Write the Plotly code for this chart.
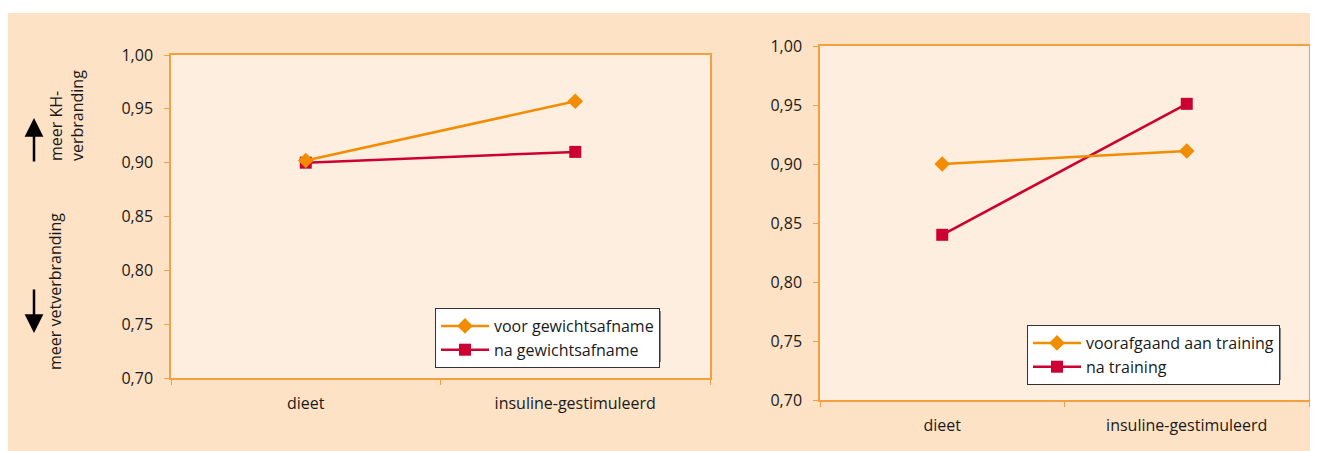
import plotly.graph_objects as go

# The page body has an 8px margin, so the figure is 8px smaller and shifted.
OFF = 8
W, H = 1318 - OFF, 451 - OFF

categories = ["dieet", "insuline-gestimuleerd"]

# left chart
left_names = ["voor gewichtsafname", "na gewichtsafname"]
left_voor = [0.902, 0.957]
left_na = [0.900, 0.910]

# right chart
right_names = ["voorafgaand aan training", "na training"]
right_voor = [0.900, 0.911]
right_na = [0.840, 0.951]

y_ticks = [0.70, 0.75, 0.80, 0.85, 0.90, 0.95, 1.00]

ORANGE = "#F28C00"
RED = "#CC0033"
AXIS = "#F5A040"
PEACH = "#FDE2C5"
PLOTBG = "#FDEEDF"
TXT = "#1a1a1a"
FONT = "Open Sans"
FS = 16


def px_x(p):
    return (p - OFF) / W


def px_y(p):
    return 1 - (p - OFF) / H


fig = go.Figure()

series = [
    (left_names[0], left_voor, ORANGE, "diamond", 12, "x", "y", "legend"),
    (left_names[1], left_na, RED, "square", 12, "x", "y", "legend"),
    (right_names[0], right_voor, ORANGE, "diamond", 12, "x2", "y2", "legend2"),
    (right_names[1], right_na, RED, "square", 12, "x2", "y2", "legend2"),
]
for name, vals, col, sym, sz, xa, ya, lg in [series[1], series[0], series[3], series[2]]:
    fig.add_trace(go.Scatter(
        x=categories, y=vals, name=name, mode="lines+markers",
        line=dict(color=col, width=2.5),
        marker=dict(symbol=sym, size=sz, color=col),
        xaxis=xa, yaxis=ya, legend=lg,
    ))

axis_common = dict(
    showline=True, linecolor=AXIS, linewidth=1.5, mirror=True,
    ticks="outside", ticklen=5, tickcolor=AXIS, tickwidth=1,
    showgrid=False, zeroline=False, automargin=False,
    tickfont=dict(family=FONT, size=FS, color=TXT),
)

legend_common = dict(
    xanchor="left", yanchor="top",
    bgcolor="white", bordercolor="#333333", borderwidth=1,
    font=dict(family=FONT, size=FS, color=TXT),
    tracegroupgap=0, traceorder="reversed", itemwidth=48,
)


def shadow(x0, x1, y0, y1):
    return dict(type="rect", xref="paper", yref="paper",
                x0=px_x(x0), x1=px_x(x1), y0=px_y(y1), y1=px_y(y0),
                fillcolor="#8a8a8a", line=dict(width=0), layer="above")


fig.update_layout(
    width=W, height=H,
    margin=dict(l=0, r=0, t=0, b=0, autoexpand=False),
    paper_bgcolor=PEACH,
    plot_bgcolor=PLOTBG,
    separators=",.",
    font=dict(family=FONT, size=FS, color=TXT),
    xaxis=dict(domain=[px_x(171), px_x(710)], anchor="y", type="category",
               range=[-0.5, 1.5], tickson="boundaries", ticklabelstandoff=10,
               **axis_common),
    yaxis=dict(domain=[px_y(378), px_y(55)], anchor="x", range=[0.70, 1.00],
               tickvals=y_ticks, tickformat=".2f", ticklabelstandoff=8, **axis_common),
    xaxis2=dict(domain=[px_x(820), px_x(1309)], anchor="y2", type="category",
                range=[-0.5, 1.5], tickson="boundaries", ticklabelstandoff=10,
                **axis_common),
    yaxis2=dict(domain=[px_y(400), px_y(46)], anchor="x2", range=[0.70, 1.00],
                tickvals=y_ticks, tickformat=".2f", ticklabelstandoff=8, **axis_common),
    legend=dict(x=px_x(435), y=px_y(308), **legend_common),
    legend2=dict(x=px_x(1027), y=px_y(325), **legend_common),
    shapes=[
        dict(type="rect", xref="paper", yref="paper", x0=0, x1=1, y0=px_y(13), y1=1,
             fillcolor="white", line=dict(width=0), layer="above"),
        shadow(438, 661, 311, 362),
        shadow(1030, 1281, 328, 380),
    ],
    annotations=[
        dict(text="meer KH-<br>verbranding", textangle=-90, align="left",
             x=px_x(66), y=px_y(116), xref="paper", yref="paper",
             xanchor="center", yanchor="middle",
             showarrow=False, font=dict(family=FONT, size=FS, color=TXT)),
        dict(text="meer vetverbranding", textangle=-90,
             x=px_x(55), y=px_y(292), xref="paper", yref="paper",
             xanchor="center", yanchor="middle",
             showarrow=False, font=dict(family=FONT, size=FS, color=TXT)),
        dict(text="", x=px_x(34), y=px_y(118), xref="paper", yref="paper",
             showarrow=True, ax=0, ay=45, arrowhead=2, arrowsize=1.5,
             arrowwidth=2.5, arrowcolor="black"),
        dict(text="", x=px_x(34), y=px_y(333), xref="paper", yref="paper",
             showarrow=True, ax=0, ay=-45, arrowhead=2, arrowsize=1.5,
             arrowwidth=2.5, arrowcolor="black"),
    ],
)

fig.write_html("out.html")
